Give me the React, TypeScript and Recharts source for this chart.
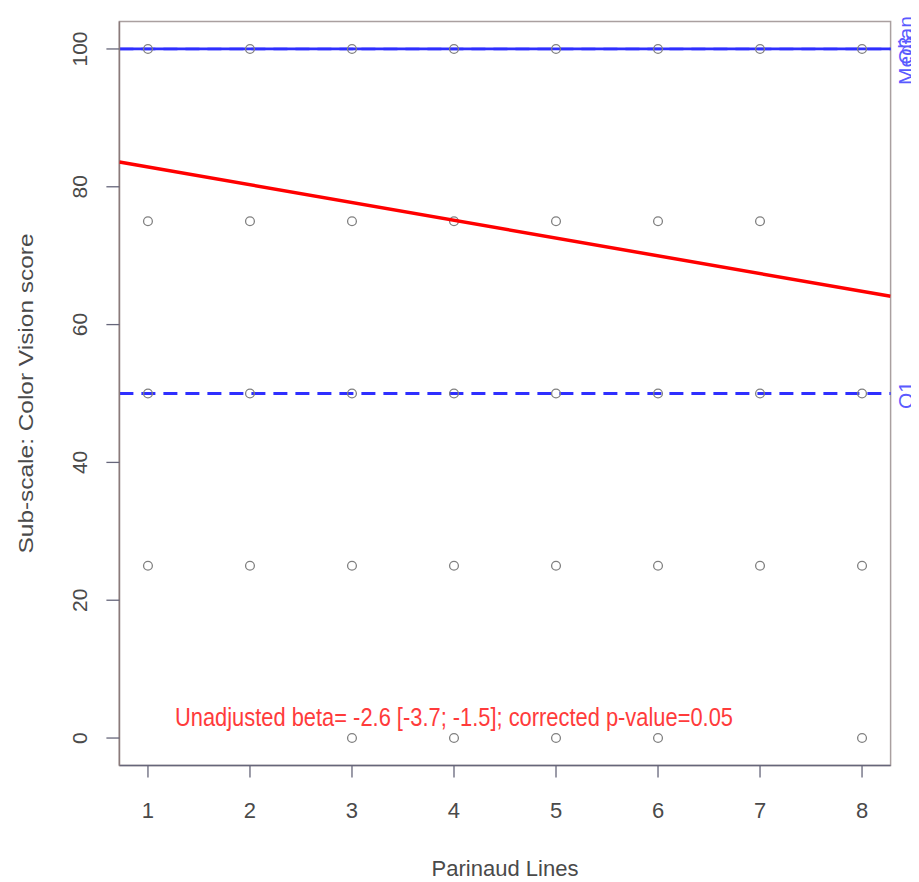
import React from 'react';
import { ScatterChart, Scatter, XAxis, YAxis, ReferenceLine, ReferenceArea, ReferenceDot } from 'recharts';

const parinaudLines = [1, 2, 3, 4, 5, 6, 7, 8];
const scoresLine1 = [100, 75, 50, 25];
const scoresLine2 = [100, 75, 50, 25];
const scoresLine3 = [100, 75, 50, 25, 0];
const scoresLine4 = [100, 75, 50, 25, 0];
const scoresLine5 = [100, 75, 50, 25, 0];
const scoresLine6 = [100, 75, 50, 25, 0];
const scoresLine7 = [100, 75, 50, 25];
const scoresLine8 = [100, 50, 25, 0];
const scoresByLine = [scoresLine1, scoresLine2, scoresLine3, scoresLine4, scoresLine5, scoresLine6, scoresLine7, scoresLine8];

const xTicks = [1, 2, 3, 4, 5, 6, 7, 8];
const yTicks = [0, 20, 40, 60, 80, 100];
const xDomain = [0.72, 8.28];
const yDomain = [-4, 104];

const fitLine = [
  { x: 0.72, y: 83.6 },
  { x: 8.28, y: 64.1 },
];
const medianValue = 100;
const q3Value = 100;
const q1Value = 50;
const annotationPos = { x: 4, y: 3 };
const annotationText = 'Unadjusted beta= -2.6 [-3.7; -1.5]; corrected p-value=0.05';
const xTitle = 'Parinaud Lines';
const yTitle = 'Sub-scale: Color Vision score';

const points = parinaudLines.flatMap((line, i) => scoresByLine[i].map((s) => ({ x: line, y: s })));

const FONT = '"Liberation Sans", Arial, sans-serif';
const TEXT_GREY = '#4a4a4a';
const BLUE = '#2f2fff';
const LABEL_BLUE = '#5a5aff';

const OpenCircle = (props: any) => {
  const { cx, cy } = props;
  return <circle cx={cx} cy={cy} r={4.4} fill="none" stroke="#808080" strokeWidth={1.3} />;
};

const NoShape = () => <g />;

const YTick = (props: any) => {
  const { y, payload } = props;
  const tx = 72;
  return (
    <text x={tx} y={y} transform={`rotate(-90 ${tx} ${y})`} textAnchor="middle" dominantBaseline="central"
      fontFamily={FONT} fontSize={21} fill={TEXT_GREY}>
      {payload.value}
    </text>
  );
};

const XTick = (props: any) => {
  const { x, payload } = props;
  return (
    <text x={x} y={802} textAnchor="middle" dominantBaseline="central" fontFamily={FONT} fontSize={22} fill={TEXT_GREY}>
      {payload.value}
    </text>
  );
};

const RightLabel = (text: string) => (props: any) => {
  const vb = props.viewBox || {};
  const x = (vb.x || 0) + (vb.width || 0) + 14.5;
  const y = (vb.y || 0) + 1.5;
  return (
    <text x={x} y={y} transform={`rotate(-90 ${x} ${y})`} textAnchor="middle" dominantBaseline="central"
      fontFamily={FONT} fontSize={21} fill={LABEL_BLUE}>
      {text}
    </text>
  );
};

const AnnotationLabel = (props: any) => {
  const vb = props.viewBox || {};
  const x = (vb.x || 0) + (vb.width || 0) / 2;
  const y = (vb.y || 0) + (vb.height || 0) / 2;
  return (
    <text x={x} y={y} textAnchor="middle" dominantBaseline="central" fontFamily={FONT} fontSize={25}
      textLength={558} lengthAdjust="spacingAndGlyphs" fill="#ff3b3b">
      {annotationText}
    </text>
  );
};

const XTitle = (props: any) => {
  const vb = props.viewBox || {};
  const x = (vb.x || 0) + (vb.width || 0) / 2;
  const y = (vb.y || 0) + 102.5;
  return (
    <text x={x} y={y} textAnchor="middle" dominantBaseline="central" fontFamily={FONT} fontSize={22} fill={TEXT_GREY}>
      {xTitle}
    </text>
  );
};

const YTitle = (props: any) => {
  const vb = props.viewBox || {};
  const x = 17;
  const y = (vb.y || 0) + (vb.height || 0) / 2;
  return (
    <text x={x} y={y} transform={`rotate(-90 ${x} ${y})`} textAnchor="middle" dominantBaseline="central"
      fontFamily={FONT} fontSize={21} textLength={320} lengthAdjust="spacingAndGlyphs" fill={TEXT_GREY}>
      {yTitle}
    </text>
  );
};

export default function App() {
  return (
    <ScatterChart width={911} height={874} margin={{ top: 13.4, right: 28.4, bottom: 0, left: 0 }}>
      <XAxis
        type="number"
        dataKey="x"
        domain={xDomain}
        ticks={xTicks}
        allowDataOverflow
        height={116.4}
        tickSize={12}
        tick={<XTick />}
        tickLine={{ stroke: '#66667a', strokeWidth: 1.3 }}
        axisLine={{ stroke: '#66667a', strokeWidth: 1.5 }}
        label={{ content: XTitle }}
      />
      <YAxis
        type="number"
        dataKey="y"
        domain={yDomain}
        ticks={yTicks}
        allowDataOverflow
        width={111.4}
        tickSize={13}
        tick={<YTick />}
        tickLine={{ stroke: '#66667a', strokeWidth: 1.3 }}
        axisLine={{ stroke: '#8a7a7a', strokeWidth: 1.5 }}
        label={{ content: YTitle }}
      />
      <ReferenceArea x1={xDomain[0]} x2={xDomain[1]} y1={yDomain[0]} y2={yDomain[1]} fill="none" fillOpacity={0}
        stroke="#aaa0a0" strokeWidth={1.5} />
      <ReferenceLine y={q3Value} stroke={BLUE} strokeWidth={2.5} strokeDasharray="14 8" label={{ content: RightLabel('Q3') }} />
      <ReferenceLine y={medianValue} stroke={BLUE} strokeWidth={2.8} label={{ content: RightLabel('Median') }} />
      <ReferenceLine y={q1Value} stroke={BLUE} strokeWidth={2.8} strokeDasharray="14 8" label={{ content: RightLabel('Q1') }} />
      <Scatter data={points} shape={<OpenCircle />} isAnimationActive={false} />
      <Scatter data={fitLine} line={{ stroke: '#ff0000', strokeWidth: 3.5 }} shape={<NoShape />} isAnimationActive={false} />
      <ReferenceDot x={annotationPos.x} y={annotationPos.y} r={0} fill="none" stroke="none" label={{ content: AnnotationLabel }} />
    </ScatterChart>
  );
}
